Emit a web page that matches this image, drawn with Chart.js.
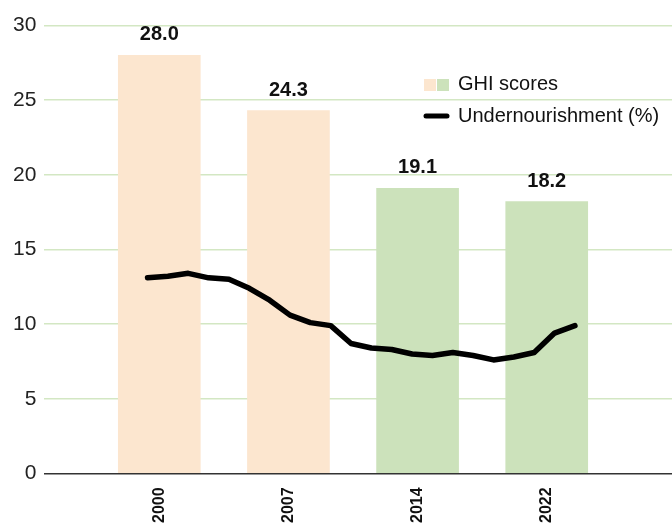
<!DOCTYPE html>
<html>
<head>
<meta charset="utf-8">
<script src="https://cdn.jsdelivr.net/npm/chart.js@4.4.1/dist/chart.umd.min.js"></script>
<style>
  html, body { margin: 0; padding: 0; background: #fff; overflow: hidden; }
  #wrap { width: 672px; height: 523px; overflow: hidden; }
</style>
</head>
<body>
<div id="wrap"><canvas id="ghi" width="672" height="537"></canvas></div>
<script>
// GHI score per report year (bars)
const ghiYears = ['2000', '2007', '2014', '2022'];
const ghiScores = [28.0, 24.3, 19.1, 18.2];

// prevalence of undernourishment, yearly (line)
const underYears = [2000, 2001, 2002, 2003, 2004, 2005, 2006, 2007, 2008, 2009, 2010,
                    2011, 2012, 2013, 2014, 2015, 2016, 2017, 2018, 2019, 2020, 2021];
const underValues = [13.1, 13.2, 13.4, 13.1, 13.0, 12.4, 11.6, 10.6, 10.1, 9.9, 8.7,
                     8.4, 8.3, 8.0, 7.9, 8.1, 7.9, 7.6, 7.8, 8.1, 9.4, 9.9];

const yTicks = [0, 5, 10, 15, 20, 25, 30];

const PEACH = '#fce6cf';
const GREEN = '#cce2bb';
const GRID = '#d3e7c3';
const FONT = '"Liberation Sans", Arial, sans-serif';

(function(){
    const ctx = document.getElementById('ghi').getContext('2d');

    // bold numbers above the bars
    const barLabels = {
        id: 'barLabels',
        afterDatasetsDraw(chart) {
            const meta = chart.getDatasetMeta(0);
            const c = chart.ctx;
            c.save();
            c.font = 'bold 20px ' + FONT;
            c.fillStyle = '#111';
            c.textAlign = 'center';
            c.textBaseline = 'alphabetic';
            meta.data.forEach((bar, i) => {
                c.fillText(ghiScores[i].toFixed(1), bar.x, bar.y - 15);
            });
            c.restore();
        }
    };

    // legend drawn by hand (two colour squares for GHI)
    const customLegend = {
        id: 'customLegend',
        afterDraw(chart) {
            const c = chart.ctx;
            c.save();
            c.fillStyle = PEACH;
            c.fillRect(424, 79, 12, 12);
            c.fillStyle = GREEN;
            c.fillRect(437, 79, 12, 12);
            c.strokeStyle = '#000';
            c.lineWidth = 5;
            c.lineCap = 'round';
            c.beginPath();
            c.moveTo(426, 116);
            c.lineTo(447, 116);
            c.stroke();
            c.font = '20px ' + FONT;
            c.fillStyle = '#111';
            c.textBaseline = 'middle';
            c.fillText('GHI scores', 458, 84);
            c.fillText('Undernourishment (%)', 458, 116);
            c.restore();
        }
    };

    new Chart(ctx, {
        type: 'bar',
        data: {
            datasets: [{
                type: 'bar',
                label: 'GHI scores',
                data: ghiScores.map((v, i) => ({ x: i, y: v })),
                backgroundColor: [PEACH, PEACH, GREEN, GREEN],
                grouped: false,
                categoryPercentage: 1,
                barPercentage: 1,
                maxBarThickness: 82,
                xAxisID: 'x',
                order: 2
            }, {
                type: 'line',
                label: 'Undernourishment (%)',
                data: underValues.map((v, i) => ({ x: underYears[i], y: v })),
                borderColor: '#000',
                borderWidth: 5.5,
                borderCapStyle: 'round',
                borderJoinStyle: 'round',
                pointRadius: 0,
                tension: 0,
                xAxisID: 'x2',
                order: 1
            }]
        },
        options: {
            responsive: false,
            animation: false,
            layout: { padding: { top: 25.5, left: 5, right: 0, bottom: 0 } },
            plugins: {
                legend: { display: false },
                tooltip: { enabled: false }
            },
            scales: {
                x: {
                    type: 'linear',
                    position: 'bottom',
                    offset: false,
                    min: -0.89,
                    max: 3.97,
                    afterBuildTicks: (scale) => {
                        scale.ticks = ghiYears.map((y, i) => ({ value: i }));
                    },
                    ticks: {
                        autoSkip: false,
                        minRotation: 90,
                        maxRotation: 90,
                        padding: 14,
                        color: '#111',
                        font: { family: FONT, size: 16, weight: 'bold' },
                        callback: (v) => ghiYears[v]
                    },
                    grid: { display: false, drawTicks: false, offset: false },
                    border: { display: true, color: '#333', width: 1.5 }
                },
                x2: {
                    type: 'linear',
                    display: false,
                    offset: false,
                    grid: { offset: false },
                    min: 1994.93,
                    max: 2025.77
                },
                y: {
                    min: 0,
                    max: 30,
                    afterBuildTicks: (scale) => {
                        scale.ticks = yTicks.map(v => ({ value: v }));
                    },
                    ticks: {
                        padding: 8,
                        color: '#222',
                        font: { family: FONT, size: 21 }
                    },
                    grid: {
                        drawTicks: false,
                        color: (c) => c.tick && c.tick.value === 0 ? 'rgba(0,0,0,0)' : GRID,
                        lineWidth: 1.5
                    },
                    border: { display: false }
                }
            }
        },
        plugins: [barLabels, customLegend]
    });
}());
</script>
</body>
</html>
